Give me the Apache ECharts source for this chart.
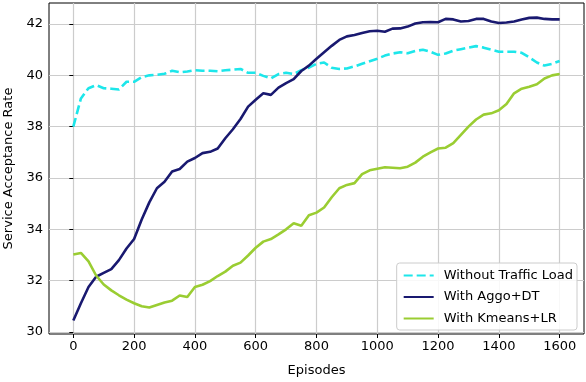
<!DOCTYPE html>
<html>
<head>
<meta charset="utf-8">
<script src="https://cdn.jsdelivr.net/npm/echarts@6/dist/echarts.min.js"></script>
<style>html,body{margin:0;padding:0;background:#fff}#c{width:586px;height:382px}</style>
</head>
<body>
<div id="c"></div>
<script>
const episodes = [0,25,50,75,100,125,150,175,200,225,250,275,300,325,350,375,400,425,450,475,500,525,550,575,600,625,650,675,700,725,750,775,800,825,850,875,900,925,950,975,1000,1025,1050,1075,1100,1125,1150,1175,1200,1225,1250,1275,1300,1325,1350,1375,1400,1425,1450,1475,1500,1525,1550,1575,1600];
const withoutTraffic = [38.0,39.1,39.5,39.62,39.5,39.48,39.45,39.75,39.75,39.93,40.0,40.02,40.06,40.18,40.12,40.15,40.2,40.18,40.18,40.16,40.2,40.22,40.25,40.1,40.1,39.98,39.88,40.05,40.1,40.05,40.2,40.3,40.45,40.5,40.3,40.25,40.27,40.35,40.45,40.55,40.65,40.77,40.85,40.9,40.86,40.95,41.0,40.92,40.8,40.85,40.96,41.02,41.08,41.14,41.08,41.0,40.92,40.92,40.92,40.88,40.7,40.5,40.38,40.45,40.56];
const aggoDT = [30.45,31.12,31.75,32.15,32.3,32.45,32.8,33.25,33.62,34.38,35.05,35.6,35.85,36.25,36.35,36.64,36.78,36.97,37.02,37.15,37.55,37.9,38.3,38.78,39.05,39.3,39.24,39.52,39.7,39.85,40.17,40.38,40.65,40.9,41.15,41.38,41.52,41.57,41.65,41.72,41.74,41.7,41.82,41.83,41.9,42.02,42.07,42.08,42.07,42.2,42.18,42.1,42.12,42.2,42.2,42.1,42.04,42.06,42.1,42.18,42.24,42.25,42.2,42.18,42.18];
const kmeansLR = [33.02,33.08,32.75,32.2,31.85,31.62,31.43,31.26,31.12,31.0,30.95,31.05,31.15,31.22,31.42,31.36,31.75,31.84,31.98,32.18,32.35,32.58,32.7,32.98,33.28,33.52,33.62,33.8,34.0,34.24,34.14,34.55,34.65,34.85,35.25,35.6,35.73,35.8,36.15,36.3,36.36,36.42,36.4,36.38,36.44,36.6,36.83,37.0,37.15,37.18,37.36,37.68,38.0,38.28,38.47,38.52,38.64,38.88,39.3,39.48,39.56,39.65,39.88,40.0,40.05];
const xTicks = [0,200,400,600,800,1000,1200,1400,1600];
const yTicks = [30,32,34,36,38,40,42];
const names = ['Without Traffic Load','With Aggo+DT','With Kmeans+LR'];

const pair = arr => episodes.map((e,i)=>[e,arr[i]]);
const font = 'DejaVu Sans';
const chart = echarts.init(document.getElementById('c'));
chart.setOption({
  animation:false,
  grid:{left:49,right:2,top:3,bottom:48,show:true,borderColor:'#000',borderWidth:1,backgroundColor:'transparent',outerBoundsMode:'none',containLabel:false},
  xAxis:{type:'value',min:-80,max:1680,
    name:'Episodes',nameLocation:'middle',nameGap:30,nameTextStyle:{fontFamily:font,fontSize:13,color:'#000'},
    axisLine:{show:false},
    axisTick:{show:true,length:4,lineStyle:{color:'#000'},customValues:xTicks},
    axisLabel:{customValues:xTicks,fontFamily:font,fontSize:13,color:'#000',margin:6,formatter:v=>String(v)},
    splitLine:{show:true,lineStyle:{color:'#cccccc',width:1.2}}},
  yAxis:{type:'value',min:29.92,max:42.82,
    name:'Service Acceptance Rate',nameLocation:'middle',nameGap:33,nameTextStyle:{fontFamily:font,fontSize:13,color:'#000'},
    axisLine:{show:false},
    axisTick:{show:true,length:4,lineStyle:{color:'#000'},customValues:yTicks},
    axisLabel:{customValues:yTicks,fontFamily:font,fontSize:13,color:'#000',margin:6,formatter:v=>String(v)},
    splitLine:{show:true,lineStyle:{color:'#cccccc',width:1.2}}},
  legend:{show:true,right:9,bottom:52,orient:'vertical',itemWidth:30,itemHeight:12,itemGap:8.5,
    padding:[6,4,5,6],borderColor:'#cccccc',borderWidth:1,borderRadius:3,backgroundColor:'rgba(255,255,255,0.85)',
    textStyle:{fontFamily:font,fontSize:13,color:'#000',padding:[0,0,0,5]},
    itemStyle:{opacity:0},
    data:names},
  series:[
    {name:names[0],type:'line',data:pair(withoutTraffic),showSymbol:false,symbol:'none',
      lineStyle:{color:'#1de6ea',width:2.6,type:[9,4]},itemStyle:{color:'#1de6ea'}},
    {name:names[1],type:'line',data:pair(aggoDT),showSymbol:false,symbol:'none',
      lineStyle:{color:'#191970',width:2.6},itemStyle:{color:'#191970'}},
    {name:names[2],type:'line',data:pair(kmeansLR),showSymbol:false,symbol:'none',
      lineStyle:{color:'#9acd32',width:2.6},itemStyle:{color:'#9acd32'}}
  ]
});
</script>
</body>
</html>
